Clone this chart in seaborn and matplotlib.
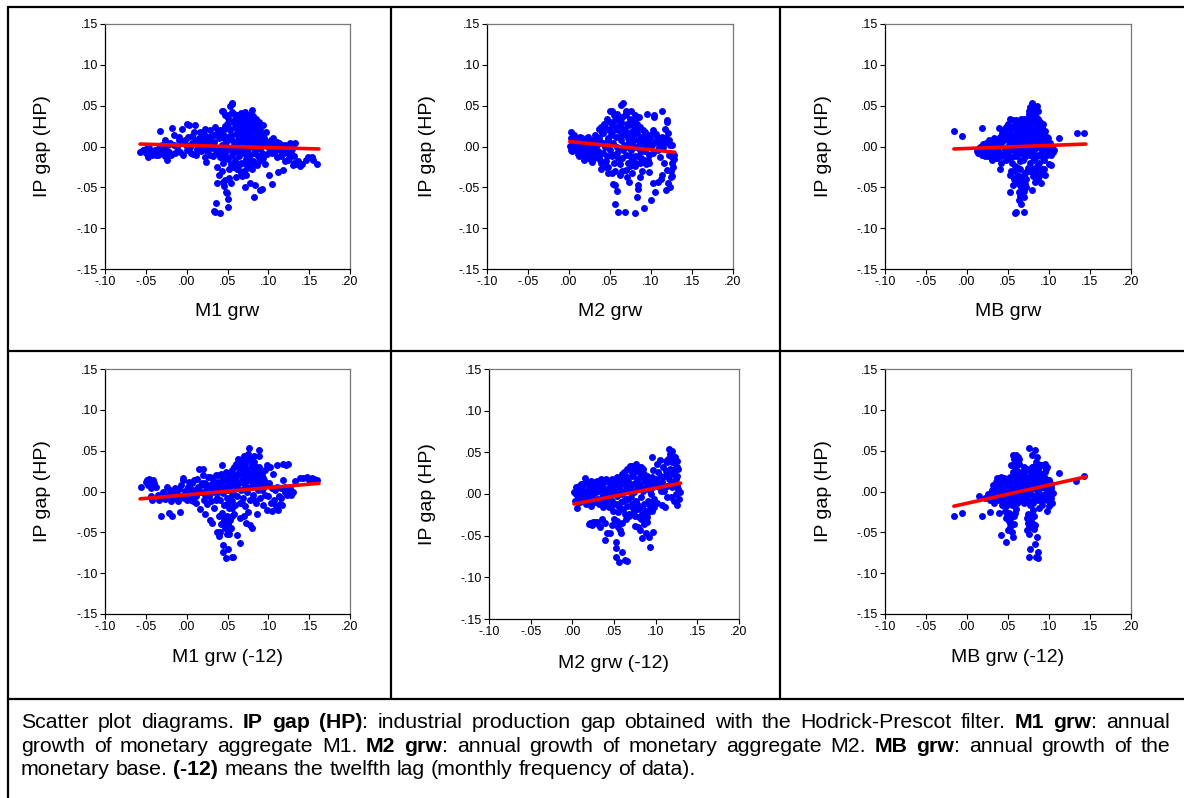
import pandas as pd
import matplotlib
matplotlib.use('Agg')
import matplotlib.pyplot as plt
from matplotlib.lines import Line2D
from matplotlib.ticker import FuncFormatter
import seaborn as sns

W, H = 1184, 798
BLUE, RED = '#0000FF', '#FF0000'

# ---- data: (money growth, IP gap) ----
m1_pts = [
    (-.057, -.007), (-.052, -.004), (-.049, -.002), (-.047, -.013), (-.045, -.006), (-.043, -.010),
    (-.041, -.009), (-.039, -.004), (-.037, -.004), (-.035, -.011), (-.033, .019), (-.031, -.006),
    (-.029, -.009), (-.027, .008), (-.026, -.003), (-.024, -.017), (-.022, -.007), (-.020, .004),
    (-.018, .023), (-.016, .014), (-.014, -.008), (-.012, .000), (-.010, .012), (-.008, -.007),
    (-.006, .022), (-.004, .005), (-.002, .008), (.000, .028), (.001, -.004), (.003, .026),
    (.004, .000), (.006, .013), (.008, -.009), (.010, .026), (.012, .008), (.013, -.003),
    (.014, .003), (.016, .018), (.017, -.006), (.018, .010), (.020, .000), (.021, .015),
    (.022, -.013), (.023, .004), (.024, -.019), (.025, -.005), (.027, .012), (.028, -.010),
    (.029, .020), (.030, .006), (.031, -.002), (.033, .000), (.034, .014), (.035, .024), (.036, -.008),
    (.033, -.079), (.036, -.069), (.035, -.080), (.037, -.045), (.041, -.081), (.037, -.025),
    (.039, -.035), (.041, -.013), (.043, -.030), (.045, -.043), (.047, -.041), (.048, -.056),
    (.049, -.057), (.051, -.064), (.050, -.074), (.044, -.020), (.046, -.048), (.052, -.038),
    (.054, -.045), (.057, -.025), (.061, -.037), (.063, -.027), (.065, -.021), (.066, -.033),
    (.068, -.036), (.070, -.030), (.073, -.035), (.072, -.049), (.076, -.017), (.078, -.045),
    (.080, -.028), (.082, -.062), (.084, -.047), (.086, -.023), (.090, -.053), (.092, -.052),
    (.096, -.021), (.101, -.035), (.104, -.046),
    (.043, .044), (.045, .043), (.047, .038), (.050, .035), (.053, .049), (.055, .052),
    (.056, .053), (.058, .040), (.059, .034), (.060, .028), (.062, .038), (.064, .032),
    (.066, .025), (.067, .041), (.069, .040), (.071, .036), (.072, .042), (.074, .033),
    (.076, .038), (.078, .030), (.080, .045), (.081, .037), (.083, .028), (.085, .034),
    (.088, .030), (.090, .020), (.094, .026), (.097, .018),
    (.098, -.009), (.100, .005), (.102, -.003), (.104, .002), (.106, .010), (.108, -.006),
    (.110, -.013), (.112, -.031), (.113, .004), (.114, .000), (.116, -.005), (.118, -.029),
    (.120, .002), (.122, -.007), (.124, -.017), (.126, -.010), (.127, .004), (.129, -.003),
    (.130, -.023), (.132, -.020), (.133, .004), (.134, -.021), (.141, -.022), (.146, -.016),
    (.148, -.013), (.153, -.013), (.155, -.017), (.159, -.022),
    (.040, .010), (.042, -.005), (.044, .015), (.045, .000), (.046, .022), (.047, -.010),
    (.048, .006), (.049, .028), (.050, -.015), (.051, .012), (.052, -.002), (.053, .020),
    (.054, -.022), (.055, .008), (.056, -.010), (.057, .030), (.058, .002), (.059, -.016),
    (.060, .015), (.061, -.005), (.062, .022), (.063, .008), (.064, -.012), (.065, .000),
    (.066, .018), (.067, -.020), (.068, .010), (.069, .026), (.070, -.008), (.071, .004),
    (.072, .020), (.073, -.015), (.074, .012), (.075, -.003), (.076, .025), (.077, .006),
    (.078, -.010), (.079, .017), (.080, .001), (.081, -.018), (.082, .010), (.083, .020),
    (.084, -.005), (.085, .012), (.086, .003), (.087, -.012), (.088, .015), (.089, -.002),
    (.090, .008), (.092, -.008), (.093, .002), (.095, .010), (.062, -.028), (.058, -.025),
    (.070, .032), (.074, .028), (.066, .034), (.078, .022), (.052, .030), (.050, .024),
    (.046, .010), (.043, .002), (.060, .004), (.064, .016), (.068, -.002), (.072, .008),
    (.076, -.020), (.080, .010),
]
m1_more = [
    (-.054, -.004), (-.050, -.008), (-.046, -.002), (-.042, -.006), (-.038, -.011), (-.034, -.002),
    (-.030, .002), (-.027, -.012), (-.023, .002), (-.019, -.010), (-.015, .002), (-.011, -.005),
    (-.009, .008), (-.005, -.010), (-.001, .002), (.002, .012), (.005, -.008), (.007, .004),
    (.009, .018), (.011, -.010), (.015, .010), (.019, .004), (.022, .022), (.024, .008),
    (.026, -.002), (.029, .012), (.032, -.012), (.034, .006), (.037, .016), (.039, -.002),
    (.041, .020), (.044, -.015), (.047, .025), (.049, -.004), (.051, .038), (.052, -.028),
    (.054, .014), (.055, .042), (.057, -.006), (.059, .024), (.061, -.022), (.063, .036),
    (.064, .004), (.066, -.006), (.067, .030), (.069, .012), (.070, -.020), (.071, .040),
    (.073, .016), (.074, -.026), (.075, .006), (.077, .032), (.078, .014), (.079, -.022),
    (.080, .024), (.082, -.008), (.083, .004), (.084, .030), (.086, .018), (.087, .008),
    (.088, -.018), (.089, .024), (.091, .000), (.092, .014), (.094, -.014), (.096, .006),
    (.099, .000), (.103, .008), (.105, -.008), (.107, .003), (.109, -.002), (.111, .006),
    (.115, -.012), (.117, .002), (.119, -.008), (.121, -.018), (.123, .000), (.125, -.014),
    (.128, -.008), (.131, -.012), (.136, -.018), (.139, -.024),
]
m2_pts = [
    (.001, .001), (.002, -.004), (.003, .018), (.004, .008), (.005, .012), (.006, -.002),
    (.007, .004), (.008, .010), (.009, .004), (.010, -.006), (.011, -.009), (.012, .002),
    (.013, .007), (.014, -.004), (.015, -.002), (.016, .010), (.017, -.008), (.018, .003),
    (.019, -.012), (.020, -.013), (.021, .006), (.022, -.003), (.023, .012), (.024, -.007),
    (.025, .000), (.026, -.015), (.027, .004), (.028, -.019), (.029, -.008), (.030, .008),
    (.031, -.002), (.032, .014), (.033, -.012), (.034, .002), (.035, -.006), (.036, .022),
    (.037, .010), (.038, -.016), (.039, .024), (.039, -.027), (.040, .004),
    (.041, .016), (.042, -.008), (.043, .028), (.044, .000), (.045, -.018), (.046, .034),
    (.047, .010), (.048, -.025), (.049, .020), (.050, .044), (.050, -.004), (.051, .014),
    (.052, -.012), (.053, .044), (.053, .026), (.054, .004), (.055, -.020), (.056, .032),
    (.057, .012), (.058, -.008), (.059, .040), (.060, .020), (.061, -.002), (.062, -.021),
    (.063, .030), (.064, .051), (.064, .008), (.065, -.014), (.066, .053), (.066, .022),
    (.067, .002), (.068, .038), (.069, -.010), (.070, .014), (.071, .028), (.072, -.020),
    (.073, .006), (.074, .034), (.075, .044), (.075, -.004), (.076, .018), (.077, -.016),
    (.078, .026), (.079, .008), (.080, -.024), (.081, .032), (.082, .000), (.083, .016),
    (.084, -.012), (.085, .036), (.085, .024), (.086, .004), (.087, -.020), (.088, .012),
    (.089, -.006), (.090, .020), (.091, -.016), (.092, .000), (.093, .018), (.094, -.022),
    (.095, .040), (.096, .006), (.097, -.010), (.098, -.020), (.099, .010), (.060, .032),
    (.070, .040), (.078, .012), (.056, -.030), (.082, -.020), (.074, -.024),
    (.039, -.020), (.045, -.025), (.048, -.032), (.052, -.033), (.054, -.046), (.056, -.047),
    (.056, -.070), (.058, -.055), (.060, -.080), (.062, -.035), (.065, -.030), (.068, -.080),
    (.070, -.029), (.071, -.037), (.073, -.043), (.077, -.033), (.080, -.082), (.083, -.062),
    (.084, -.047), (.084, -.052), (.087, -.037), (.089, -.030), (.092, -.075), (.097, -.031),
    (.100, -.065), (.103, -.045),
    (.099, .014), (.101, .002), (.102, -.008), (.103, .020), (.104, .038), (.104, .036),
    (.105, .006), (.105, -.056), (.106, .015), (.107, .012), (.108, -.004), (.109, -.044),
    (.110, .010), (.111, -.013), (.112, .004), (.113, .044), (.114, -.035), (.114, .012),
    (.115, .000), (.116, -.020), (.117, .022), (.118, -.053), (.118, .010), (.119, .032),
    (.120, .030), (.120, -.029), (.121, -.045), (.121, .016), (.122, .008), (.122, -.010),
    (.123, -.049), (.123, .002), (.124, -.037), (.124, -.030), (.125, .002), (.125, -.020),
    (.126, -.013), (.126, -.036), (.127, -.025), (.128, -.015), (.128, -.010), (.110, .000),
    (.116, .004), (.112, -.040),
]
m2_more = [
    (.002, .010), (.004, -.006), (.006, .014), (.008, -.002), (.010, .008), (.012, -.012),
    (.014, .012), (.016, .002), (.018, -.016), (.020, .000), (.022, .010), (.024, .004),
    (.026, -.010), (.028, .008), (.030, -.014), (.032, .002), (.034, .010), (.036, -.012),
    (.038, .006), (.040, .016), (.042, .004), (.044, .024), (.046, -.012), (.048, .008),
    (.050, .030), (.052, .018), (.054, -.010), (.055, .038), (.057, .024), (.058, .000),
    (.060, -.014), (.062, .026), (.063, .014), (.065, .036), (.066, -.004), (.068, .020),
    (.069, .044), (.070, .000), (.072, .010), (.073, .026), (.074, -.012), (.076, .030),
    (.077, .004), (.079, .020), (.080, .038), (.081, -.012), (.083, .028), (.084, .008),
    (.086, -.004), (.087, .024), (.088, -.014), (.090, .004), (.091, .012), (.093, -.006),
    (.095, .008), (.096, -.016), (.098, .002),
]
mb_pts = [
    (-.016, .019), (-.006, .013), (.018, .023), (.039, .023), (.112, .011), (.134, .017), (.143, .017),
    (.013, -.003), (.014, -.008), (.015, -.004), (.016, .000), (.018, -.010), (.019, .003),
    (.020, -.006), (.021, -.002), (.022, -.012), (.023, .004), (.024, -.008), (.025, .000),
    (.026, -.005), (.027, .008), (.028, -.012), (.029, .002), (.030, -.017), (.031, .006),
    (.032, -.004), (.033, .010), (.034, -.010), (.035, .002), (.036, .008), (.037, -.014),
    (.038, .000), (.039, -.007), (.040, -.027), (.040, .012), (.041, -.020), (.042, .004),
    (.043, .016), (.044, -.010), (.045, .008), (.046, .022), (.046, -.003), (.047, -.016),
    (.048, .024), (.048, .012), (.049, .000), (.050, -.008), (.050, .028), (.051, .018),
    (.052, .034), (.052, .004), (.053, -.014), (.054, .010), (.055, -.020), (.055, .024),
    (.056, .032), (.056, .000), (.057, .014), (.058, -.006), (.058, -.024), (.059, .006),
    (.060, .032), (.060, .020), (.061, -.012), (.062, .002), (.063, .026), (.063, -.004),
    (.064, .012), (.065, -.018), (.066, .018), (.066, .034), (.067, -.008), (.068, .008),
    (.069, .000), (.069, .024), (.070, -.014), (.071, .014), (.072, .030), (.072, -.004),
    (.073, .004), (.074, .020), (.075, -.010), (.075, .036), (.076, .010), (.077, .026),
    (.077, -.020), (.078, .000), (.078, .042), (.079, .016), (.080, -.008), (.080, .032),
    (.081, .006), (.082, .022), (.082, -.016), (.083, .038), (.083, .012), (.084, -.002),
    (.085, .028), (.085, -.024), (.086, .016), (.086, .004), (.087, .034), (.087, -.010),
    (.088, .022), (.088, -.020), (.089, .008), (.090, .000), (.090, .014), (.091, -.028),
    (.092, .024), (.092, -.006), (.093, .028), (.094, .010), (.094, -.016), (.095, .019),
    (.095, -.035), (.096, .002), (.097, -.010), (.098, .012), (.099, -.004), (.100, -.022),
    (.101, .004), (.102, -.010), (.103, -.023), (.104, .000), (.105, -.007), (.106, -.004),
    (.075, .044), (.077, .048), (.079, .053), (.080, .046), (.082, .040), (.085, .049),
    (.087, .044), (.084, .036), (.076, .040), (.070, .034), (.064, .030),
    (.052, -.056), (.053, -.035), (.054, -.030), (.056, -.047), (.057, -.040), (.058, -.082),
    (.060, -.080), (.061, -.036), (.062, -.026), (.063, -.046), (.064, -.056), (.064, -.066),
    (.065, -.060), (.066, -.070), (.066, -.050), (.067, -.038), (.068, -.043), (.069, -.052),
    (.070, -.080), (.070, -.062), (.070, -.055), (.071, -.033), (.071, -.046), (.072, -.040),
    (.073, -.030), (.074, -.026), (.079, -.053), (.080, -.036), (.083, -.043), (.084, -.030),
    (.086, -.040), (.090, -.045), (.092, -.032), (.094, -.028),
]
mb_more = [
    (.012, -.006), (.017, -.004), (.020, -.010), (.022, .002), (.025, -.012), (.027, -.003),
    (.030, .000), (.033, -.006), (.035, -.014), (.037, .006), (.040, .002), (.042, -.012),
    (.044, .008), (.046, .014), (.048, -.008), (.050, .008), (.052, .022), (.053, -.004),
    (.055, .014), (.057, -.012), (.058, .026), (.060, .010), (.061, -.004), (.062, .014),
    (.063, .022), (.065, -.006), (.066, .006), (.067, .026), (.068, -.016), (.069, .016),
    (.070, .004), (.071, .030), (.072, .020), (.073, -.008), (.074, .012), (.075, .026),
    (.076, -.004), (.077, .008), (.078, .032), (.079, -.012), (.080, .020), (.081, .012),
    (.082, .004), (.083, .030), (.084, .018), (.085, -.012), (.086, .008), (.087, .022),
    (.088, .000), (.089, .030), (.090, -.012), (.091, .006), (.092, .016), (.093, -.002),
    (.095, .008), (.097, .002), (.099, .010), (.101, -.004),
    (.059, -.030), (.061, -.044), (.063, -.036), (.065, -.028), (.067, -.048), (.068, -.060),
    (.069, -.035), (.072, -.050), (.076, -.030), (.078, -.026), (.082, -.034), (.088, -.036),
]
m1_lag_pts = [
    (-.056, .005), (-.050, .012), (-.048, .014), (-.047, .008), (-.046, .015), (-.045, .010),
    (-.044, .004), (-.043, .013), (-.042, .008), (-.041, .014), (-.040, .010), (-.043, -.011),
    (-.044, -.006), (-.038, .005), (-.035, -.004), (-.032, -.030), (-.030, -.006), (-.028, -.002),
    (-.026, -.009), (-.024, .006), (-.022, -.026), (-.020, -.004), (-.018, -.030), (-.017, .001),
    (-.015, -.008), (-.013, -.002), (-.011, -.012), (-.009, .003), (-.008, -.025), (-.006, -.006),
    (-.005, .016), (-.004, .014), (-.002, .001), (.000, -.010), (.002, .005), (.004, -.004),
    (.006, .010), (.008, -.012), (.010, .002), (.012, -.006), (.013, .015), (.015, .028),
    (.016, -.021), (.017, .008), (.018, -.001), (.020, .028), (.020, .020), (.021, -.010),
    (.022, -.028), (.023, .010), (.024, .002), (.025, -.015), (.026, .018), (.027, -.005),
    (.028, -.035), (.029, .008), (.030, -.012), (.031, -.038), (.032, .014), (.033, .000),
    (.034, -.020), (.035, .006), (.036, .020), (.037, -.049), (.037, -.008), (.038, .012),
    (.039, -.054), (.040, -.030), (.041, -.049), (.042, -.040), (.044, -.065), (.045, -.074),
    (.046, -.035), (.047, -.045), (.048, -.081), (.049, -.030), (.050, -.070), (.050, -.040),
    (.052, -.052), (.053, -.035), (.054, -.045), (.055, -.080), (.057, -.080), (.058, -.028),
    (.062, -.053), (.065, -.063), (.065, -.033), (.073, -.039), (.078, -.041), (.080, -.045),
    (.086, -.027), (.075, -.025), (.070, -.030),
    (.039, .004), (.040, .020), (.041, -.010), (.042, .010), (.043, .032), (.044, -.002),
    (.045, .014), (.046, -.016), (.047, .006), (.048, .024), (.049, -.008), (.050, .012),
    (.051, .002), (.052, -.020), (.053, .018), (.054, .008), (.055, -.012), (.056, .026),
    (.057, .000), (.058, .014), (.059, -.016), (.060, .006), (.060, .034), (.061, .020),
    (.062, -.006), (.063, .030), (.064, .010), (.065, -.014), (.065, .038), (.066, .022),
    (.067, .002), (.068, .040), (.068, .014), (.069, -.008), (.070, .028), (.070, .044),
    (.071, .008), (.072, -.018), (.072, .020), (.073, .036), (.074, .000), (.075, .014),
    (.075, .046), (.076, .053), (.076, .028), (.077, -.010), (.078, .020), (.078, .040),
    (.079, .006), (.080, .032), (.081, -.004), (.082, .016), (.082, .026), (.083, .044),
    (.084, .008), (.085, -.014), (.086, .022), (.087, .002), (.088, .051), (.088, .043),
    (.088, .014), (.089, .030), (.090, -.008), (.091, .010), (.092, .020), (.093, -.016),
    (.094, .004), (.095, .014), (.096, -.004), (.098, .032), (.098, -.023), (.099, .008),
    (.100, -.006), (.101, .010), (.102, .030), (.103, -.014), (.104, -.024), (.105, .004),
    (.106, .022), (.107, -.010), (.108, .002), (.109, -.018), (.110, .032), (.111, .006),
    (.112, -.023), (.113, -.006), (.114, -.015), (.115, .004), (.116, -.008), (.117, -.016),
    (.118, .014), (.118, .034), (.120, .000), (.121, .006), (.122, .032), (.123, -.004),
    (.124, .034), (.125, -.002), (.126, .004), (.128, -.004), (.129, -.002), (.130, .000),
    (.133, .013), (.139, .016), (.143, .016), (.147, .018), (.150, .014), (.153, .016),
    (.156, .015), (.159, .014),
]
m1_lag_more = [
    (-.034, -.010), (-.029, .000), (-.025, -.006), (-.021, .002), (-.019, -.012), (-.014, .004),
    (-.010, -.006), (-.007, .008), (-.003, -.008), (.001, .000), (.003, .012), (.005, -.010),
    (.007, .002), (.009, .014), (.011, -.014), (.014, .006), (.019, .010), (.022, -.004),
    (.025, .006), (.028, .018), (.031, .002), (.034, .010), (.036, -.010), (.038, .000),
    (.042, .022), (.044, .014), (.046, .002), (.048, .016), (.050, -.014), (.052, .006),
    (.054, .022), (.056, -.004), (.058, .030), (.060, .018), (.062, .008), (.063, .040),
    (.064, .024), (.066, .032), (.067, .012), (.068, -.014), (.069, .020), (.071, .034),
    (.072, .004), (.073, .014), (.074, .026), (.075, .004), (.076, .040), (.077, .020),
    (.079, .028), (.080, .012), (.081, .024), (.082, .036), (.083, -.010), (.084, .016),
    (.085, .030), (.086, .006), (.087, .020), (.089, .012), (.090, .024), (.092, .002),
    (.094, .016), (.096, .026), (.097, .008),
    (.043, -.026), (.045, -.040), (.047, -.032), (.049, -.052), (.051, -.038), (.053, -.046),
    (.055, -.030), (.056, -.020),
]
m2_lag_pts = [
    (.002, .003), (.003, -.008), (.004, .000), (.005, -.017), (.006, .006), (.007, -.004),
    (.008, .010), (.009, -.010), (.010, .002), (.011, .008), (.012, -.006), (.013, .012),
    (.014, -.002), (.015, .019), (.016, -.012), (.017, .004), (.018, .015), (.019, -.008),
    (.020, .008), (.021, .000), (.022, -.014), (.023, .012), (.024, -.004), (.025, .006),
    (.026, -.010), (.027, .014), (.028, .002), (.029, -.006), (.030, .016), (.031, .008),
    (.032, -.012), (.033, .004), (.034, .018), (.035, -.004), (.036, .010), (.037, -.016),
    (.038, .014), (.039, .002), (.040, -.010), (.040, .018),
    (.020, -.036), (.021, -.035), (.023, -.037), (.025, -.034), (.027, -.033), (.029, -.033),
    (.031, -.036), (.033, -.039), (.036, -.030), (.039, -.035), (.039, -.055), (.042, -.047),
    (.045, -.047), (.048, -.037), (.050, -.030),
    (.052, -.057), (.052, -.065), (.052, -.075), (.056, -.081), (.060, -.069), (.063, -.079),
    (.065, -.080), (.057, -.043), (.058, -.047), (.055, -.040), (.054, -.032), (.060, -.035),
    (.064, -.030), (.068, -.026), (.075, -.038), (.079, -.040), (.081, -.043), (.082, -.030),
    (.084, -.053), (.086, -.036), (.088, -.047), (.090, -.028), (.092, -.052), (.093, -.063),
    (.097, -.045),
    (.041, .006), (.042, -.004), (.043, .014), (.044, -.016), (.045, .002), (.046, .010),
    (.047, -.008), (.048, .018), (.049, -.020), (.050, .004), (.051, .012), (.052, -.012),
    (.053, .020), (.054, -.002), (.055, -.022), (.056, .008), (.057, .016), (.058, -.010),
    (.059, .024), (.060, .000), (.061, -.018), (.062, .012), (.063, .022), (.064, -.006),
    (.065, .004), (.066, .030), (.066, -.014), (.067, .016), (.068, -.024), (.069, .034),
    (.069, .008), (.070, -.004), (.071, .022), (.072, .034), (.072, -.016), (.073, .012),
    (.074, .002), (.075, .028), (.075, -.026), (.076, .036), (.076, -.008), (.077, .018),
    (.078, .006), (.079, -.018), (.080, .026), (.080, .032), (.081, .012), (.082, -.004),
    (.083, .020), (.084, -.024), (.085, .030), (.085, .004), (.086, -.012), (.087, .016),
    (.088, -.020), (.089, .022), (.090, .008), (.091, -.008), (.092, .014), (.093, -.014),
    (.094, .000), (.095, .020), (.096, -.020), (.097, .008), (.098, -.006), (.099, .016),
    (.096, .044), (.097, .029), (.100, .018), (.101, -.011), (.102, .036), (.103, .026),
    (.104, .008), (.105, .041), (.106, .022), (.107, -.013), (.108, .014), (.109, .032),
    (.110, .004), (.111, -.015), (.112, .040), (.113, -.003), (.113, .024), (.114, .010),
    (.115, .042), (.116, .054), (.116, .018), (.117, .030), (.118, -.004), (.119, .052),
    (.119, .038), (.120, .008), (.121, .024), (.122, .044), (.122, -.008), (.123, .045),
    (.123, .016), (.124, .032), (.124, .000), (.125, .033), (.125, .010), (.126, -.013),
    (.126, .022), (.127, .006), (.128, -.006), (.129, .002),
]
m2_lag_more = [
    (.004, .008), (.006, -.010), (.008, .002), (.010, .012), (.012, .004), (.014, -.008),
    (.016, .014), (.018, .002), (.020, -.004), (.022, .016), (.024, .010), (.026, .002),
    (.028, -.010), (.030, .004), (.032, .012), (.034, -.008), (.036, .016), (.038, .004),
    (.042, .016), (.044, .004), (.046, -.014), (.048, .008), (.050, .016), (.052, .000),
    (.054, .012), (.056, -.016), (.058, .004), (.060, .018), (.061, -.008), (.062, .026),
    (.063, -.024), (.064, .006), (.066, .020), (.067, -.006), (.068, .010), (.070, .028),
    (.071, -.012), (.072, .004), (.073, .024), (.074, -.020), (.076, .014), (.077, .030),
    (.078, -.012), (.079, .010), (.080, -.028), (.081, .020), (.082, .032), (.083, -.016),
    (.084, .006), (.086, .024), (.087, -.030), (.088, .008), (.089, -.034), (.090, .016),
    (.091, -.022), (.093, .004), (.095, -.010), (.096, .010), (.098, -.016),
    (.103, .012), (.106, .004), (.109, .020), (.112, .028), (.114, .038), (.117, .048),
    (.118, .012), (.120, .040), (.121, .046), (.122, .028), (.124, .018), (.125, .040),
    (.126, .008), (.127, .030),
]
mb_lag_pts = [
    (-.016, -.030), (-.006, -.026), (.015, -.005), (.018, -.030), (.028, -.025), (.039, -.026),
    (.041, -.053), (.047, -.062), (.112, .023), (.133, .013), (.143, .019),
    (.022, -.008), (.025, -.003), (.028, -.010), (.030, .002), (.031, -.006), (.032, .008),
    (.033, -.014), (.034, .004), (.035, .012), (.036, -.002), (.037, .016), (.038, -.010),
    (.039, .006), (.040, .014), (.041, -.004), (.042, .010), (.043, -.016), (.044, .002),
    (.045, .016), (.046, -.008), (.047, .008), (.048, -.018), (.049, .000), (.050, .012),
    (.051, -.010), (.052, .004), (.053, .018), (.054, -.004), (.055, -.016), (.055, .010),
    (.056, .024), (.057, .000), (.058, -.010), (.058, .014), (.059, .030), (.060, -.004),
    (.061, .006), (.062, .020), (.063, -.012), (.064, .010), (.065, .000), (.066, .016),
    (.067, -.008), (.068, .006), (.069, .024), (.070, -.014), (.071, .002), (.072, .012),
    (.073, .028), (.073, -.006), (.074, .008), (.075, .018), (.076, -.012), (.077, .002),
    (.078, .024), (.078, .012), (.079, -.004), (.080, .016), (.081, .030), (.081, -.014),
    (.082, .006), (.083, .020), (.084, -.006), (.085, .010), (.086, .026), (.086, .000),
    (.087, -.010), (.088, .016), (.089, .004), (.090, .032), (.090, -.004), (.091, .012),
    (.092, .022), (.093, -.008), (.094, .006), (.095, .016), (.096, .028), (.096, -.002),
    (.097, .010), (.098, -.010), (.099, .004), (.100, .014), (.100, -.018), (.101, .002),
    (.102, .008), (.103, -.008), (.104, -.014), (.105, -.002),
    (.054, .032), (.056, .045), (.057, .040), (.058, .043), (.059, .036), (.060, .045),
    (.061, .038), (.062, .042), (.063, .034), (.064, .040), (.060, .028), (.070, .026),
    (.076, .053), (.079, .045), (.083, .051), (.084, .036), (.085, .042), (.088, .030),
    (.092, .033), (.095, .034), (.097, .030),
    (.046, -.024), (.048, -.033), (.049, -.028), (.050, -.047), (.051, -.036), (.052, -.039),
    (.053, -.044), (.054, -.030), (.055, -.050), (.056, -.056), (.057, -.040), (.058, -.026),
    (.060, -.022), (.073, -.033), (.073, -.047), (.074, -.028), (.075, -.043), (.076, -.080),
    (.077, -.070), (.078, -.036), (.080, -.030), (.081, -.023), (.082, -.046), (.083, -.041),
    (.083, -.064), (.084, -.080), (.085, -.056), (.086, -.074), (.086, -.081), (.088, -.020),
    (.092, -.016), (.098, -.024),
]
mb_lag_more = [
    (.032, -.002), (.034, -.010), (.036, .006), (.038, .002), (.040, -.006), (.041, .010),
    (.042, .018), (.044, -.010), (.046, .012), (.047, -.004), (.049, .008), (.050, -.014),
    (.051, .016), (.053, .002), (.054, .012), (.056, -.008), (.057, .020), (.059, .006),
    (.060, .016), (.061, -.014), (.062, .004), (.063, .024), (.064, -.002), (.065, .012),
    (.066, -.010), (.067, .020), (.068, .000), (.069, .012), (.070, .030), (.071, -.008),
    (.072, .018), (.074, .000), (.075, .026), (.076, .008), (.077, -.016), (.078, .018),
    (.079, .030), (.080, .004), (.081, .022), (.082, -.010), (.083, .012), (.084, .026),
    (.085, .002), (.086, .016), (.087, .034), (.088, -.004), (.089, .020), (.090, .010),
    (.091, -.012), (.092, .006), (.093, .018), (.094, -.004), (.095, .024), (.097, .002),
    (.099, -.006), (.101, .010), (.103, .004),
    (.051, -.026), (.053, -.034), (.055, -.040), (.057, -.030), (.074, -.038), (.076, -.052),
    (.078, -.044), (.080, -.040), (.082, -.030),
]

# fitted regression lines (end points)
m1_fit_x, m1_fit_y = [-.057, .162], [.003, -.003]
m2_fit_x, m2_fit_y = [.001, .129], [.006, -.007]
mb_fit_x, mb_fit_y = [-.016, .145], [-.003, .003]
m1_lag_fit_x, m1_lag_fit_y = [-.057, .162], [-.009, .010]
m2_lag_fit_x, m2_lag_fit_y = [.002, .130], [-.012, .013]
mb_lag_fit_x, mb_lag_fit_y = [-.016, .145], [-.018, .018]

x_ticks = [-.10, -.05, .00, .05, .10, .15, .20]
y_ticks = [-.15, -.10, -.05, .00, .05, .10, .15]
x_names = ['M1 grw', 'M2 grw', 'MB grw', 'M1 grw (-12)', 'M2 grw (-12)', 'MB grw (-12)']
y_name = 'IP gap (HP)'

caption = [
    "Scatter plot diagrams. *IP* *gap* *(HP)*: industrial production gap obtained with the Hodrick-Prescot filter. *M1* *grw*: annual",
    "growth of monetary aggregate M1. *M2* *grw*: annual growth of monetary aggregate M2. *MB* *grw*: annual growth of the",
    "monetary base. *(-12)* means the twelfth lag (monthly frequency of data).",
]

sns.set_style('ticks')
plt.rcParams['font.family'] = ['Liberation Sans', 'DejaVu Sans']
plt.rcParams['text.color'] = 'black'
plt.rcParams['xtick.color'] = 'black'
plt.rcParams['ytick.color'] = 'black'

fig = plt.figure(figsize=(W / 100, H / 100), dpi=100)


def px_axes(x0, y0, x1, y1):
    return fig.add_axes([x0 / W, 1 - y1 / H, (x1 - x0) / W, (y1 - y0) / H])


def fig_xy(x, y):
    return x / W, 1 - y / H


boxes = [(105, 24, 350, 269), (487, 24, 733, 269), (885, 24, 1131, 269),
         (105, 369, 350, 614), (489, 369, 739, 619), (885, 369, 1131, 614)]
ylab_x = [43, 427, 823, 43, 427, 823]
xlab_y = [312, 312, 312, 658, 663, 658]

panels = [(m1_pts + m1_more, m1_fit_x, m1_fit_y),
          (m2_pts + m2_more, m2_fit_x, m2_fit_y),
          (mb_pts + mb_more, mb_fit_x, mb_fit_y),
          (m1_lag_pts + m1_lag_more, m1_lag_fit_x, m1_lag_fit_y),
          (m2_lag_pts + m2_lag_more, m2_lag_fit_x, m2_lag_fit_y),
          (mb_lag_pts + mb_lag_more, mb_lag_fit_x, mb_lag_fit_y)]

fmt = FuncFormatter(lambda v, p: f'{v:.2f}'.replace('0.', '.', 1))

for i, (pts, fx, fy) in enumerate(panels):
    ax = px_axes(*boxes[i])
    df = pd.DataFrame(pts, columns=['x', 'y'])
    sns.scatterplot(data=df, x='x', y='y', ax=ax, color=BLUE, s=25, linewidth=0, zorder=2)
    sns.lineplot(x=fx, y=fy, ax=ax, color=RED, linewidth=2.6, zorder=3)
    ax.set_xlim(-.10, .20)
    ax.set_ylim(-.15, .15)
    ax.set_xticks(x_ticks)
    ax.set_yticks(y_ticks)
    ax.xaxis.set_major_formatter(fmt)
    ax.yaxis.set_major_formatter(fmt)
    ax.tick_params(direction='out', length=3.5, width=0.8, labelsize=9, pad=1.5)
    for s in ['top', 'right']:
        ax.spines[s].set_color('#777777')
        ax.spines[s].set_linewidth(0.9)
    for s in ['left', 'bottom']:
        ax.spines[s].set_color('black')
        ax.spines[s].set_linewidth(0.9)
    ax.set_xlabel('')
    ax.set_ylabel('')
    x0, y0, x1, y1 = boxes[i]
    fig.text(*fig_xy((x0 + x1) / 2, xlab_y[i]), x_names[i], ha='center', va='center', fontsize=14)
    fig.text(*fig_xy(ylab_x[i], (y0 + y1) / 2), y_name, rotation=90, ha='center', va='center', fontsize=14)

# table rules
rules = [((8, 7), (1184, 7)), ((8, 351), (1184, 351)), ((8, 699), (1184, 699)),
         ((8, 7), (8, 798)), ((390.5, 7), (390.5, 699)), ((780.5, 7), (780.5, 699))]
for (xa, ya), (xb, yb) in rules:
    fig.add_artist(Line2D([xa / W, xb / W], [1 - ya / H, 1 - yb / H], color='black', linewidth=1.6))

# justified caption with bold pieces
CAP_FS = 15.3
fig.canvas.draw()
rend = fig.canvas.get_renderer()


def text_w(s, bold):
    t = fig.text(0, 0, s, fontsize=CAP_FS, fontweight='bold' if bold else 'normal')
    w = t.get_window_extent(rend).width
    t.remove()
    return w


space_w = text_w('a a', False) - text_w('aa', False)
left, right = 21, 1170
baselines = [728, 752, 775]
for li, line in enumerate(caption):
    words = []
    for word in line.split(' '):
        pieces = [(p, k % 2 == 1) for k, p in enumerate(word.split('*')) if p]
        words.append([(p, b, text_w(p, b)) for p, b in pieces])
    total = sum(w for wd in words for _, _, w in wd)
    gap = (right - left - total) / (len(words) - 1) if li < len(caption) - 1 else space_w
    x = left
    for wd in words:
        for p, b, w in wd:
            fig.text(*fig_xy(x, baselines[li]), p, fontsize=CAP_FS, fontweight='bold' if b else 'normal',
                     ha='left', va='baseline')
            x += w
        x += gap

fig.savefig('out.png', dpi=100)
